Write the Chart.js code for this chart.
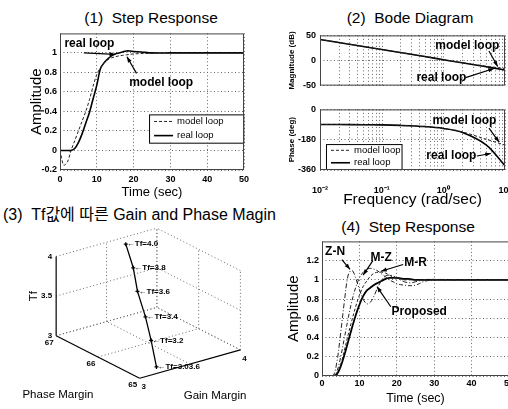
<!DOCTYPE html>
<html>
<head>
<meta charset="utf-8">
<script src="https://cdn.jsdelivr.net/npm/chart.js@4.4.1/dist/chart.umd.min.js"></script>
<style>
html, body { margin: 0; padding: 0; background: #fff; }
#fig { position: relative; width: 508px; height: 409px; overflow: hidden; background: #fff; }
.pane { position: absolute; }
.ttl { position: absolute; font-family: "Liberation Sans", Arial, "Noto Sans CJK KR", sans-serif; white-space: nowrap; color: #000; transform: translate(-50%, -50%); }
</style>
</head>
<body>
<div id="fig">
  <div class="ttl" style="left:151px; top:18px; font-size:15.5px;">(1)&nbsp; Step Response</div>
  <div class="ttl" style="left:410px; top:18px; font-size:15.5px;">(2)&nbsp; Bode Diagram</div>
  <div class="ttl" style="left:3px; top:213px; font-size:16px; transform: translate(0, -50%); font-family: 'Liberation Sans', 'Noto Sans CJK KR', sans-serif;">(3)&nbsp; Tf값에 따른 Gain and Phase Magin</div>
  <div class="ttl" style="left:408px; top:227px; font-size:15.5px;">(4)&nbsp; Step Response</div>

  <div class="pane" style="left:20px; top:25px; width:240px; height:180px;"><canvas id="c1"></canvas></div>
  <div class="pane" style="left:280px; top:26px; width:245px; height:69px;"><canvas id="c2a"></canvas></div>
  <div class="pane" style="left:280px; top:100px; width:245px; height:110px;"><canvas id="c2b"></canvas></div>
  <div class="pane" style="left:0px; top:220px; width:262px; height:189px;"><canvas id="c3"></canvas></div>
  <div class="pane" style="left:280px; top:233px; width:250px; height:176px;"><canvas id="c4"></canvas></div>
</div>

<script>
'use strict';

// (1) Step Response
const time1 = [0, 1, 2, 3, 4, 5, 6, 7, 8, 9, 10, 11, 12, 13, 14, 15, 16, 17, 18, 19, 20, 22, 25, 30, 35, 40, 45, 50];
const modelLoop1 = [0, -0.15, -0.12, 0, 0.1, 0.2, 0.3, 0.4, 0.52, 0.66, 0.78, 0.85, 0.9, 0.93, 0.95, 0.96, 0.97, 0.975, 0.98, 0.985, 0.99, 0.993, 0.996, 1, 1, 1, 1, 1];
const realLoop1 = [0, 0, 0, 0, 0.02, 0.08, 0.17, 0.28, 0.39, 0.53, 0.67, 0.84, 0.9, 0.94, 0.97, 0.99, 1.0, 1.01, 1.02, 1.02, 1.015, 1.01, 1.0, 1, 1, 1, 1, 1];
const ampTicks1 = [-0.2, 0, 0.2, 0.4, 0.6, 0.8, 1];
const timeTicks = [0, 10, 20, 30, 40, 50];

// (2) Bode Diagram
const freq = [0.01, 0.02, 0.05, 0.1, 0.2, 0.5, 1, 2, 5, 10];
const magModel = [42, 36, 28, 22, 16, 8, 1.5, -4.3, -11.5, -16];
const magReal = [42, 36, 28, 22, 16, 8, 1.5, -4.5, -12.5, -19];
const phaseModel = [-90, -90, -91, -92, -95, -102, -113, -133, -178, -212];
const phaseReal = [-90, -90, -91, -92, -95, -102, -113, -136, -212, -335];
const magTicks = [-50, 0, 50];
const phaseTicks = [-360, -180, 0];
const decades = [0.01, 0.1, 1];
const freqTicks = decades.flatMap(d => [1, 2, 3, 4, 5, 6, 7, 8, 9].map(k => +(k * d).toPrecision(3))).concat([10]);

// (3) Tf vs Gain / Phase margin
const tfValues = [4.0, 3.8, 3.6, 3.4, 3.2, 3.0];
const gainMargin = [3.60, 3.55, 3.48, 3.41, 3.35, 3.25];
const phaseMargin = [66.78, 66.48, 66.21, 65.85, 65.57, 65.2];
const tfLabels = ['Tf=4.0', 'Tf=3.8', 'Tf=3.6', 'Tf=3.4', 'Tf=3.2', 'Tf=3.03.6'];
const gmTicks = [3, 3.5, 4];
const pmTicks = [65, 66, 67];
const tfTicks = [3, 3.5, 4];

// (4) Step Response
const time4 = [0, 1, 2, 3, 4, 5, 6, 7, 8, 9, 10, 11, 12, 13, 14, 15, 16, 17, 18, 19, 20, 21, 22, 23, 24, 25, 26, 27, 28, 30, 32, 35, 40, 45, 50];
const zn = [0, 0, 0, 0, 0.15, 0.45, 0.78, 1.05, 1.1, 1.02, 0.9, 0.8, 0.75, 0.77, 0.84, 0.93, 1.0, 1.04, 1.05, 1.04, 1.02, 1.0, 0.98, 0.97, 0.97, 0.98, 0.99, 1.0, 1.005, 1.005, 1.0, 1.0, 1.0, 1.0, 1.0];
const mz = [0, 0, 0, 0, 0.05, 0.2, 0.4, 0.6, 0.78, 0.92, 1.02, 1.08, 1.11, 1.12, 1.11, 1.09, 1.06, 1.03, 1.0, 0.98, 0.96, 0.95, 0.945, 0.94, 0.94, 0.945, 0.96, 0.98, 0.99, 1.0, 1.005, 1.0, 1.0, 1.0, 1.0];
const mr = [0, 0, 0, 0, 0.03, 0.12, 0.27, 0.43, 0.58, 0.72, 0.84, 0.93, 0.99, 1.04, 1.07, 1.08, 1.08, 1.07, 1.05, 1.03, 1.02, 1.01, 1.0, 1.0, 1.0, 1.0, 1.0, 1.0, 1.0, 1.0, 1.0, 1.0, 1.0, 1.0, 1.0];
const proposed = [0, 0, 0, 0, 0.02, 0.1, 0.22, 0.36, 0.5, 0.63, 0.74, 0.83, 0.89, 0.92, 0.95, 0.97, 0.99, 1.01, 1.02, 1.02, 1.02, 1.015, 1.01, 1.01, 1.005, 1.0, 1.0, 1.0, 1.0, 1.0, 1.0, 1.0, 1.0, 1.0, 1.0];
const ampTicks4 = [0, 0.2, 0.4, 0.6, 0.8, 1, 1.2];

const FONT = '"Liberation Sans", Arial, sans-serif';
Chart.defaults.font.family = FONT;
Chart.defaults.color = '#000';
Chart.defaults.animation = false;
Chart.defaults.responsive = true;
Chart.defaults.maintainAspectRatio = false;
Chart.defaults.plugins.legend.display = false;
Chart.defaults.plugins.tooltip.enabled = false;

const pts = (xs, ys) => xs.map((x, i) => ({ x: x, y: ys[i] }));
const fmt = v => String(+v.toFixed(2));
const SUP = { '-': '\u207B', '0': '\u2070', '1': '\u00B9', '2': '\u00B2', '3': '\u00B3' };
const logLabel = v => {
    const e = Math.log10(v);
    if (Math.abs(e - Math.round(e)) > 1e-6) return '';
    return '10' + String(Math.round(e)).split('').map(c => SUP[c]).join('');
};

// dotted MATLAB-ish grid
const GRID_COLOR = '#666';
const GRID_DASH = [1, 2.5];
const gridOpts = { color: GRID_COLOR, lineWidth: 1, drawTicks: false };
const borderOpts = { display: false, dash: GRID_DASH };
const tickFont = { size: 9, weight: 'bold' };

function arrow(ctx, x1, y1, x2, y2) {
    ctx.beginPath();
    ctx.moveTo(x1, y1);
    ctx.lineTo(x2, y2);
    ctx.stroke();
    const a = Math.atan2(y2 - y1, x2 - x1);
    ctx.beginPath();
    ctx.moveTo(x2, y2);
    ctx.lineTo(x2 - 6 * Math.cos(a - 0.35), y2 - 6 * Math.sin(a - 0.35));
    ctx.lineTo(x2 - 6 * Math.cos(a + 0.35), y2 - 6 * Math.sin(a + 0.35));
    ctx.closePath();
    ctx.fill();
}

// box around plot area
const frame = {
    id: 'frame',
    afterDraw(chart) {
        const { ctx, chartArea: a } = chart;
        ctx.save();
        ctx.strokeStyle = '#444';
        ctx.lineWidth = 1;
        ctx.strokeRect(a.left + 0.5, a.top + 0.5, a.width - 1, a.height - 1);
        ctx.restore();
    }
};

// vertical grid of a log axis (decades plus minor lines)
function makeLogGrid(values) {
    return {
        id: 'logGrid',
        beforeDatasetsDraw(chart) {
            const { ctx, chartArea: a, scales: { x } } = chart;
            ctx.save();
            ctx.strokeStyle = GRID_COLOR;
            ctx.lineWidth = 1;
            ctx.setLineDash(GRID_DASH);
            values.forEach(v => {
                const px = Math.round(x.getPixelForValue(v)) + 0.5;
                ctx.beginPath();
                ctx.moveTo(px, a.top);
                ctx.lineTo(px, a.bottom);
                ctx.stroke();
            });
            ctx.restore();
        }
    };
}

// text labels with arrows, given in data units
function makeNotes(items) {
    return {
        id: 'notes',
        afterDatasetsDraw(chart) {
            const { ctx, scales: { x, y } } = chart;
            ctx.save();
            ctx.fillStyle = '#000';
            ctx.strokeStyle = '#000';
            ctx.lineWidth = 1.2;
            items.forEach(n => {
                ctx.font = n.font || ('bold 12px ' + FONT);
                ctx.textAlign = 'center';
                ctx.textBaseline = 'middle';
                ctx.fillText(n.text, x.getPixelForValue(n.x), y.getPixelForValue(n.y));
                if (n.from) {
                    arrow(ctx, x.getPixelForValue(n.from[0]), y.getPixelForValue(n.from[1]),
                        x.getPixelForValue(n.to[0]), y.getPixelForValue(n.to[1]));
                }
            });
            ctx.restore();
        }
    };
}

// MATLAB style legend box inside the axes
function makeLegend(box, fontSize) {
    return {
        id: 'boxLegend',
        afterDatasetsDraw(chart) {
            const { ctx, scales: { x, y } } = chart;
            const l = x.getPixelForValue(box[0]), t = y.getPixelForValue(box[1]);
            const r = x.getPixelForValue(box[2]), b = y.getPixelForValue(box[3]);
            const dsets = chart.data.datasets;
            const rh = (b - t) / dsets.length;
            ctx.save();
            ctx.fillStyle = '#fff';
            ctx.fillRect(l, t, r - l, b - t);
            ctx.strokeStyle = '#000';
            ctx.lineWidth = 1;
            ctx.strokeRect(l + 0.5, t + 0.5, r - l, b - t);
            dsets.forEach((ds, i) => {
                const cy = t + rh * (i + 0.5);
                ctx.strokeStyle = ds.borderColor;
                ctx.lineWidth = ds.borderWidth;
                ctx.setLineDash(ds.borderDash || []);
                ctx.beginPath();
                ctx.moveTo(l + 5, cy);
                ctx.lineTo(l + 24, cy);
                ctx.stroke();
                ctx.setLineDash([]);
                ctx.fillStyle = '#000';
                ctx.font = fontSize + 'px ' + FONT;
                ctx.textAlign = 'left';
                ctx.textBaseline = 'middle';
                ctx.fillText(ds.label, l + 28, cy);
            });
            ctx.restore();
        }
    };
}

// ---------- (1) ----------
new Chart(document.getElementById('c1'), {
    type: 'line',
    data: {
        datasets: [
            { label: 'model loop', data: pts(time1, modelLoop1), borderColor: '#222', borderWidth: 1, borderDash: [3, 2], pointRadius: 0, tension: 0.3 },
            { label: 'real loop', data: pts(time1, realLoop1), borderColor: '#000', borderWidth: 1.6, pointRadius: 0, tension: 0.3 }
        ]
    },
    options: {
        layout: { padding: { top: 5, right: 16, left: 0, bottom: 0 } },
        scales: {
            x: {
                type: 'linear', min: 0, max: 50,
                afterBuildTicks: s => { s.ticks = timeTicks.map(v => ({ value: v })); },
                afterFit: s => { s.height = 35; },
                grid: gridOpts, border: borderOpts,
                ticks: { padding: 4, font: tickFont, maxRotation: 0, callback: fmt },
                title: { display: true, text: 'Time (sec)', font: { size: 13 }, padding: { top: 0, bottom: 5 } }
            },
            y: {
                min: -0.2, max: 1.2,
                afterBuildTicks: s => { s.ticks = ampTicks1.map(v => ({ value: v })); },
                afterFit: s => { s.width = 40; },
                grid: gridOpts, border: borderOpts,
                ticks: { padding: 3, font: tickFont, callback: fmt },
                title: { display: true, text: 'Amplitude', font: { size: 15 }, padding: { top: 8, bottom: 0 } }
            }
        }
    },
    plugins: [frame, makeNotes([
        { text: 'real loop', x: 8, y: 1.09, from: [6.5, 1.0], to: [15, 0.985] },
        { text: 'model loop', x: 27.5, y: 0.69, from: [20.8, 0.79], to: [18.2, 0.96] }
    ]), makeLegend([24.2, 0.37, 49.8, 0.08], 9.5)]
});

// ---------- (2) magnitude ----------
const logX = (showTicks, height) => ({
    type: 'logarithmic', min: 0.01, max: 10,
    afterBuildTicks: s => { s.ticks = freqTicks.map(v => ({ value: v })); },
    afterFit: s => { s.height = height; },
    grid: { display: false }, border: { display: false },
    ticks: { display: showTicks, autoSkip: false, maxRotation: 0, padding: 7, font: { size: 9, weight: 'bold' }, callback: logLabel }
});

new Chart(document.getElementById('c2a'), {
    type: 'line',
    data: {
        datasets: [
            { label: 'model loop', data: pts(freq, magModel), borderColor: '#222', borderWidth: 1, borderDash: [3, 2], pointRadius: 0, tension: 0.2 },
            { label: 'real loop', data: pts(freq, magReal), borderColor: '#000', borderWidth: 1.6, pointRadius: 0, tension: 0.2 }
        ]
    },
    options: {
        layout: { padding: { top: 5, right: 20, left: 0, bottom: 0 } },
        scales: {
            x: logX(false, 2),
            y: {
                min: -50, max: 50,
                afterBuildTicks: s => { s.ticks = magTicks.map(v => ({ value: v })); },
                afterFit: s => { s.width = 40; },
                grid: gridOpts, border: borderOpts,
                ticks: { padding: 4, font: tickFont },
                title: { display: true, text: 'Magnitude (dB)', font: { size: 8, weight: 'bold' }, padding: { top: 7, bottom: 0 } }
            }
        }
    },
    plugins: [makeLogGrid(freqTicks), frame, makeNotes([
        { text: 'model loop', x: 2.45, y: 29, from: [5.5, 19], to: [7.6, -12] },
        { text: 'real loop', x: 0.93, y: -34, from: [2.3, -34], to: [6.6, -16] }
    ])]
});

// ---------- (2) phase ----------
new Chart(document.getElementById('c2b'), {
    type: 'line',
    data: {
        datasets: [
            { label: 'model loop', data: pts(freq, phaseModel), borderColor: '#222', borderWidth: 1, borderDash: [3, 2], pointRadius: 0, tension: 0.3 },
            { label: 'real loop', data: pts(freq, phaseReal), borderColor: '#000', borderWidth: 1.6, pointRadius: 0, tension: 0.3 }
        ]
    },
    options: {
        layout: { padding: { top: 5, right: 20, left: 0, bottom: 0 } },
        scales: {
            x: Object.assign(logX(true, 40), {
                title: { display: true, text: 'Frequency (rad/sec)', font: { size: 15.5 }, padding: { top: 0, bottom: 1 } }
            }),
            y: {
                min: -360, max: 0,
                afterBuildTicks: s => { s.ticks = phaseTicks.map(v => ({ value: v })); },
                afterFit: s => { s.width = 40; },
                grid: gridOpts, border: borderOpts,
                ticks: { padding: 4, font: tickFont },
                title: { display: true, text: 'Phase (deg)', font: { size: 8, weight: 'bold' }, padding: { top: 7, bottom: 0 } }
            }
        }
    },
    plugins: [makeLogGrid(freqTicks), frame, makeNotes([
        { text: 'model loop', x: 2.2, y: -66, from: [5.5, -111], to: [8, -194] },
        { text: 'real loop', x: 1.35, y: -277, from: [3.5, -277], to: [5.9, -262] }
    ]), makeLegend([0.0125, -206, 0.21, -354], 9.5)]
});

// ---------- (3) 3D line ----------
// oblique projection of (gain margin, phase margin, Tf) onto the page
const g0 = gmTicks[0], g1 = gmTicks[gmTicks.length - 1];
const p0 = pmTicks[0], p1 = pmTicks[pmTicks.length - 1];
const t0 = tfTicks[0], t1 = tfTicks[tfTicks.length - 1];
const proj = (g, p, t) => {
    const gn = (g - g0) / (g1 - g0), pn = (p - p0) / (p1 - p0), tn = (t - t0) / (t1 - t0);
    return { x: 105 * gn - 87 * pn, y: 30 * gn + 45 * pn + 84 * tn };
};

const boxSets = [];
function edge(a, b, solid) {
    boxSets.push({
        data: [proj(...a), proj(...b)], showLine: true, pointRadius: 0,
        borderColor: solid ? '#000' : GRID_COLOR, borderWidth: solid ? 1.2 : 1, borderDash: solid ? [] : GRID_DASH
    });
}
gmTicks.forEach(g => edge([g, p0, t0], [g, p1, t0], g === g0));
pmTicks.forEach(p => edge([g0, p, t0], [g1, p, t0], p === p0));
gmTicks.forEach(g => edge([g, p1, t0], [g, p1, t1], g === g0));
tfTicks.forEach(t => edge([g0, p1, t], [g1, p1, t], false));
pmTicks.forEach(p => edge([g1, p, t0], [g1, p, t1], false));
tfTicks.forEach(t => edge([g1, p0, t], [g1, p1, t], false));

const curve3 = tfValues.map((t, i) => proj(gainMargin[i], phaseMargin[i], t));

const labels3 = {
    id: 'labels3',
    afterDatasetsDraw(chart) {
        const { ctx, scales: { x, y } } = chart;
        const px = (g, p, t) => { const q = proj(g, p, t); return [x.getPixelForValue(q.x), y.getPixelForValue(q.y)]; };
        ctx.save();
        ctx.fillStyle = '#000';
        ctx.textBaseline = 'middle';
        ctx.font = 'bold 8px ' + FONT;
        ctx.textAlign = 'left';
        tfValues.forEach((t, i) => {
            const [a, b] = px(gainMargin[i], phaseMargin[i], t);
            ctx.fillText('\u2190' + tfLabels[i], a + 1, b);
        });
        ctx.textAlign = 'right';
        tfTicks.forEach(t => { const [a, b] = px(g0, p1, t); ctx.fillText(fmt(t), a - 4, b); });
        ctx.textAlign = 'center';
        pmTicks.forEach(p => { const [a, b] = px(g0, p, t0); ctx.fillText(String(p), a - 7, b + 7); });
        gmTicks.filter(g => g !== 3.5).forEach(g => { const [a, b] = px(g, p0, t0); ctx.fillText(fmt(g), a + 4, b + 9); });
        ctx.font = '11.5px ' + FONT;
        let [a, b] = px(g0, p1, 3.5);
        ctx.save();
        ctx.translate(a - 22, b);
        ctx.rotate(-Math.PI / 2);
        ctx.fillText('Tf', 0, 0);
        ctx.restore();
        [a, b] = px(g0, 66, t0);
        ctx.fillText('Phase Margin', a - 40, b + 38);
        [a, b] = px(3.5, p0, t0);
        ctx.fillText('Gain Margin', a + 25, b + 32);
        ctx.restore();
    }
};

new Chart(document.getElementById('c3'), {
    type: 'scatter',
    data: {
        datasets: boxSets.concat([{
            data: curve3, showLine: true, borderColor: '#000', borderWidth: 1.3,
            pointStyle: 'cross', pointRadius: 2, pointBorderColor: '#000'
        }])
    },
    options: {
        layout: { padding: 0 },
        scales: {
            x: { display: false, min: -140, max: 122 },
            y: { display: false, min: -27, max: 162 }
        }
    },
    plugins: [labels3]
});

// ---------- (4) ----------
new Chart(document.getElementById('c4'), {
    type: 'line',
    data: {
        datasets: [
            { label: 'Z-N', data: pts(time4, zn), borderColor: '#222', borderWidth: 1, borderDash: [5, 2, 1, 2], pointRadius: 0, tension: 0.35 },
            { label: 'M-Z', data: pts(time4, mz), borderColor: '#222', borderWidth: 1, borderDash: [4, 2, 1, 2], pointRadius: 0, tension: 0.35 },
            { label: 'M-R', data: pts(time4, mr), borderColor: '#222', borderWidth: 1, borderDash: [3, 2], pointRadius: 0, tension: 0.35 },
            { label: 'Proposed', data: pts(time4, proposed), borderColor: '#000', borderWidth: 1.8, pointRadius: 0, tension: 0.35 }
        ]
    },
    options: {
        layout: { padding: { top: 5, right: 21, left: 0, bottom: 0 } },
        scales: {
            x: {
                type: 'linear', min: 0, max: 50,
                afterBuildTicks: s => { s.ticks = timeTicks.map(v => ({ value: v })); },
                afterFit: s => { s.height = 33; },
                grid: gridOpts, border: borderOpts,
                ticks: { padding: 2, font: tickFont, maxRotation: 0, callback: fmt },
                title: { display: true, text: 'Time (sec)', font: { size: 12.5 }, padding: { top: 0, bottom: 3 } }
            },
            y: {
                min: 0, max: 1.4,
                afterBuildTicks: s => { s.ticks = ampTicks4.map(v => ({ value: v })); },
                afterFit: s => { s.width = 42; },
                grid: gridOpts, border: borderOpts,
                ticks: { padding: 3, font: tickFont, callback: fmt },
                title: { display: true, text: 'Amplitude', font: { size: 15 }, padding: { top: 5, bottom: 0 } }
            }
        }
    },
    plugins: [frame, makeNotes([
        { text: 'Z-N', x: 3.5, y: 1.29, from: [5.3, 1.21], to: [7.5, 1.11] },
        { text: 'M-Z', x: 15.8, y: 1.23, from: [13.6, 1.2], to: [11, 1.05] },
        { text: 'M-R', x: 25, y: 1.18, from: [21.7, 1.16], to: [15.8, 1.09] },
        { text: 'Proposed', x: 26, y: 0.67, from: [18.4, 0.72], to: [14.7, 0.93] }
    ])]
});
</script>
</body>
</html>
